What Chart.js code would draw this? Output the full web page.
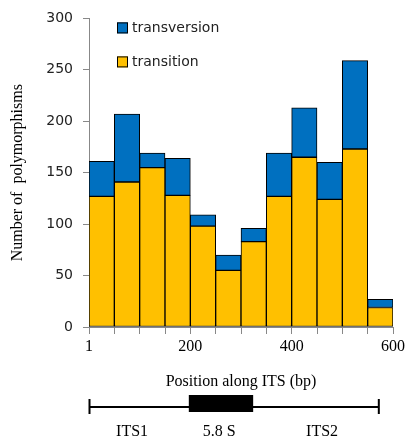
<!DOCTYPE html>
<html>
<head>
<meta charset="utf-8">
<script src="https://cdn.jsdelivr.net/npm/chart.js@4"></script>
<style>
  html, body { margin: 0; padding: 0; background: #fff; }
  #wrap { width: 408px; height: 436px; }
</style>
</head>
<body>
<div id="wrap"><canvas id="polychart" width="408" height="436"></canvas></div>
<script>
// bin centres along the ITS (bp), 50 bp bins
var binCentres = [25, 75, 125, 175, 225, 275, 325, 375, 425, 475, 525, 575];
var transition = [127, 141, 155, 128, 98, 55, 83, 127, 165, 124, 173, 19];
var transversion = [34, 66, 14, 36, 11, 15, 13, 42, 48, 36, 86, 8];

// ITS map under the axis (bp)
var regionNames = ['ITS1', '5.8 S', 'ITS2'];
var regionStart = [1, 197, 324];
var regionEnd = [197, 324, 572];
var regionLabelAt = [85, 257, 460];

var blue = '#0070C0';
var yellow = '#FFC000';
var serif = '"Liberation Serif", "Times New Roman", serif';
var sans = '"DejaVu Sans", Verdana, sans-serif';

function points(vals) {
    return vals.map(function(v, i) { return { x: binCentres[i], y: v }; });
}

// legend drawn inside the plot, stacked vertically
var boxLegend = {
    id: 'boxLegend',
    afterDraw: function(chart) {
        var c = chart.ctx, a = chart.chartArea;
        var items = [['transversion', blue], ['transition', yellow]];
        c.save();
        c.font = '14px ' + sans;
        c.textBaseline = 'middle';
        items.forEach(function(it, i) {
            var x = a.left + 28, y = a.top + 9 + i * 34;
            c.fillStyle = it[1];
            c.fillRect(x, y - 5, 11, 11);
            c.strokeStyle = '#000';
            c.lineWidth = 1;
            c.strokeRect(x + 0.5, y - 4.5, 10, 10);
            c.fillStyle = '#222';
            c.fillText(it[0], x + 15, y + 1);
        });
        c.restore();
    }
};

// ITS1 / 5.8S / ITS2 map, placed with the x scale
var itsMap = {
    id: 'itsMap',
    afterDraw: function(chart) {
        var c = chart.ctx, xs = chart.scales.x;
        var y = 407;
        var x0 = xs.getPixelForValue(regionStart[0]);
        var x1 = xs.getPixelForValue(regionEnd[2]);
        c.save();
        c.strokeStyle = '#000';
        c.lineWidth = 2;
        c.beginPath();
        c.moveTo(x0, y); c.lineTo(x1, y);
        c.moveTo(x0, y - 8); c.lineTo(x0, y + 7);
        c.moveTo(x1, y - 8); c.lineTo(x1, y + 7);
        c.stroke();
        var b0 = xs.getPixelForValue(regionStart[1]);
        var b1 = xs.getPixelForValue(regionEnd[1]);
        c.fillStyle = '#000';
        c.fillRect(b0, y - 12, b1 - b0, 17);
        c.font = '16px ' + serif;
        c.textAlign = 'center';
        c.textBaseline = 'middle';
        regionNames.forEach(function(n, i) {
            c.fillText(n, xs.getPixelForValue(regionLabelAt[i]), 432);
        });
        c.restore();
    }
};

var ctx = document.getElementById('polychart').getContext('2d');
var polyChart = new Chart(ctx, {
    type: 'bar',
    data: {
        datasets: [{
            label: 'transition',
            data: points(transition),
            backgroundColor: yellow,
            borderColor: '#000',
            borderWidth: 1,
            borderSkipped: false,
            barPercentage: 1,
            categoryPercentage: 1
        }, {
            label: 'transversion',
            data: points(transversion),
            backgroundColor: blue,
            borderColor: '#000',
            borderWidth: 1,
            borderSkipped: false,
            barPercentage: 1,
            categoryPercentage: 1
        }]
    },
    options: {
        responsive: false,
        animation: false,
        layout: { padding: { left: 4, right: 15, top: 17, bottom: 45 } },
        scales: {
            x: {
                type: 'linear',
                stacked: true,
                offset: false,
                min: 0,
                max: 600,
                grid: { display: true, drawOnChartArea: false, offset: false, tickLength: 7, color: '#888' },
                border: { color: '#888' },
                ticks: {
                    stepSize: 50,
                    autoSkip: false,
                    maxRotation: 0,
                    padding: 3,
                    color: '#000',
                    font: { family: serif, size: 16 },
                    callback: function(v) {
                        if (v === 0) return '1';
                        return v % 200 === 0 ? String(v) : '';
                    }
                },
                title: {
                    display: true,
                    text: 'Position along ITS (bp)',
                    color: '#000',
                    font: { family: serif, size: 16 },
                    padding: { top: 0, bottom: 0 }
                },
                afterFit: function(s) { s.height = 64; }
            },
            y: {
                stacked: true,
                min: 0,
                max: 300,
                grid: { display: true, drawOnChartArea: false, tickLength: 6, color: '#888' },
                border: { color: '#888' },
                ticks: {
                    stepSize: 50,
                    padding: 10,
                    color: '#222',
                    font: { family: sans, size: 14 }
                },
                title: {
                    display: true,
                    text: 'Number of  polymorphisms',
                    color: '#000',
                    font: { family: serif, size: 16 },
                    padding: { top: 4, bottom: 0 }
                },
                afterFit: function(s) { s.width = 85; }
            }
        },
        plugins: {
            legend: { display: false },
            tooltip: { enabled: false }
        }
    },
    plugins: [boxLegend, itsMap]
});
</script>
</body>
</html>
